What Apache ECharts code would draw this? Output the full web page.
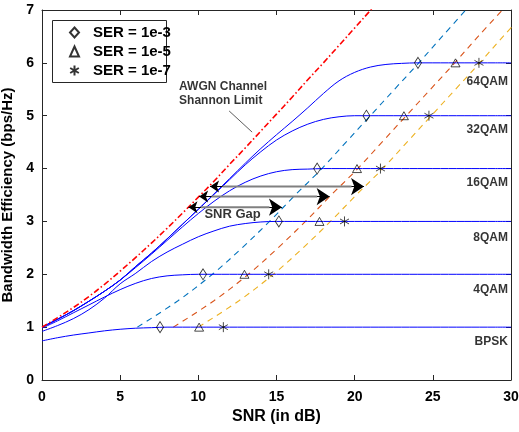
<!DOCTYPE html>
<html>
<head>
<meta charset="utf-8">
<script src="https://cdn.jsdelivr.net/npm/echarts@6/dist/echarts.min.js"></script>
<style>
  html, body { margin: 0; padding: 0; background: #fff; }
  #chart { width: 519px; height: 432px; }
</style>
</head>
<body>
<div id="chart"></div>
<script>
// SNR grid (dB) for the modulation capacity curves
var snr = [0,1,2,3,4,5,6,7,8,9,10,11,12,13,14,15,16,17,18,19,20,21,22,23,24,25,26,27,28,29,30];

// Constellation-constrained capacity (bps/Hz)
var capBPSK  = [0.74,0.80,0.85,0.89,0.93,0.96,0.98,0.99,1,1,1,1,1,1,1,1,1,1,1,1,1,1,1,1,1,1,1,1,1,1,1];
var cap4QAM  = [0.98,1.12,1.27,1.42,1.57,1.71,1.83,1.92,1.97,1.99,2,2,2,2,2,2,2,2,2,2,2,2,2,2,2,2,2,2,2,2,2];
var cap8QAM  = [0.92,1.03,1.16,1.33,1.55,1.82,2.02,2.24,2.42,2.57,2.71,2.82,2.91,2.96,2.99,3,3,3,3,3,3,3,3,3,3,3,3,3,3,3,3];
var cap16QAM = [1.00,1.15,1.31,1.49,1.68,1.89,2.13,2.38,2.64,2.90,3.15,3.38,3.58,3.74,3.86,3.94,3.98,3.99,4,4,4,4,4,4,4,4,4,4,4,4,4];
var cap32QAM = [1.00,1.15,1.31,1.49,1.68,1.89,2.15,2.40,2.67,2.95,3.23,3.51,3.79,4.07,4.32,4.54,4.71,4.84,4.93,4.98,5,5,5,5,5,5,5,5,5,5,5];
var cap64QAM = [1.00,1.15,1.31,1.49,1.68,1.89,2.15,2.40,2.67,2.95,3.23,3.52,3.81,4.10,4.38,4.64,4.89,5.15,5.42,5.66,5.82,5.92,5.97,5.99,6,6,6,6,6,6,6];

// AWGN Shannon limit
var shannonSnr = [0,1,2,3,4,5,6,7,8,9,10,11,12,13,14,15,16,17,18,19,20,21,22];
var shannonCap = [1.00,1.18,1.37,1.58,1.81,2.06,2.32,2.59,2.87,3.16,3.46,3.76,4.08,4.39,4.71,5.03,5.35,5.68,6.00,6.33,6.66,6.99,7.32];

// SER target curves: efficiency levels and the SNR where each is reached
var gapLevels = [1,1.5,2,2.5,3,3.5,4,4.5,5,5.5,6,6.5,7];
var gapSnr3 = [6.1,8.7,10.9,12.8,14.55,16.2,17.9,19.45,21.0,22.55,24.1,25.6,27.1];
var gapSnr5 = [8.4,11.0,13.2,15.1,16.85,18.5,20.2,21.75,23.3,24.85,26.4,27.9,29.45];
var gapSnr7 = [10.0,12.6,14.8,16.7,18.45,20.1,21.8,23.35,24.9,26.45,28.0,29.5,31.05];

// SNR required per modulation at each SER
var modLevels = [1,2,3,4,5,6];
var ser3Snr = [7.55,10.3,15.15,17.6,20.75,24.05];
var ser5Snr = [10.05,12.95,17.75,20.15,23.15,26.45];
var ser7Snr = [11.6,14.5,19.35,21.65,24.75,27.95];

// Modulation labels
var modNames = ['BPSK','4QAM','8QAM','16QAM','32QAM','64QAM'];
var modLabelY = [0.73,1.71,2.70,3.74,4.74,5.65];
var modLabelX = 29.8;

// SNR gap arrows
var arrowY    = [3.66,3.47,3.27];
var arrowFrom = [10.75,10.05,9.37];
var arrowTo   = [20.6,18.4,15.35];

function zip(xs, ys) { return xs.map(function (x, i) { return [x, ys[i]]; }); }

var FONT = '"Liberation Sans", Arial, Helvetica, sans-serif';
var axisColor = '#262626';

var chart = echarts.init(document.getElementById('chart'), null, { renderer: 'canvas' });

var series = [];

function capLine(name, vals) {
  return {
    name: name, type: 'line',
    data: zip(snr, vals), smooth: 0.35, showSymbol: false, silent: true,
    lineStyle: { color: '#0000ff', width: 1 }, z: 3
  };
}
series.push(capLine('BPSK', capBPSK));
series.push(capLine('4QAM', cap4QAM));
series.push(capLine('8QAM', cap8QAM));
series.push(capLine('16QAM', cap16QAM));
series.push(capLine('32QAM', cap32QAM));
series.push(capLine('64QAM', cap64QAM));

function gapLine(name, xs, color) {
  return {
    name: name, type: 'line', data: zip(xs, gapLevels), smooth: 0.35,
    showSymbol: false, silent: true,
    lineStyle: { color: color, width: 1.1, type: [6, 5] }, z: 2
  };
}
series.push(gapLine('gap3', gapSnr3, '#0072BD'));
series.push(gapLine('gap5', gapSnr5, '#D95319'));
series.push(gapLine('gap7', gapSnr7, '#EDB120'));

series.push({
  name: 'Shannon', type: 'line', data: zip(shannonSnr, shannonCap), smooth: 0.35,
  showSymbol: false, silent: true,
  lineStyle: { color: '#ff0000', width: 1.6, type: [6, 2.5, 1.5, 2.5] }, z: 4
});

// black arrow heads, grey shafts drawn on top of their connecting line
series.push({
  name: 'arrowHeads', type: 'lines', coordinateSystem: 'cartesian2d', silent: true,
  symbol: ['arrow', 'arrow'], symbolSize: [9, 13],
  lineStyle: { color: '#000', width: 1, opacity: 1 }, z: 7,
  data: arrowY.map(function (y, i) { return { coords: [[arrowFrom[i], y], [arrowTo[i], y]] }; })
});
arrowY.forEach(function (y, i) {
  series.push({
    name: 'arrowShaft' + i, type: 'line', showSymbol: false, silent: true,
    data: [[arrowFrom[i] + 0.8, y], [arrowTo[i] - 0.8, y]],
    lineStyle: { color: '#808080', width: 2 }, z: 8
  });
});

// Shannon limit pointer
series.push({
  name: 'pointer', type: 'line', showSymbol: false, silent: true,
  data: [[11.97, 5.09], [13.44, 4.69]],
  lineStyle: { color: '#333', width: 0.8 }, z: 5
});

var markerStyle = { color: 'rgba(0,0,0,0)', borderColor: '#000', borderWidth: 0.9 };
var asterisk = 'path://M5,0L5,10M0.67,2.5L9.33,7.5M0.67,7.5L9.33,2.5';
series.push({
  name: 'SER = 1e-3', type: 'scatter', data: zip(ser3Snr, modLevels),
  symbol: 'diamond', symbolSize: [7, 11], itemStyle: markerStyle, z: 10
});
series.push({
  name: 'SER = 1e-5', type: 'scatter', data: zip(ser5Snr, modLevels),
  symbol: 'triangle', symbolSize: [9, 8], itemStyle: markerStyle, z: 10
});
series.push({
  name: 'SER = 1e-7', type: 'scatter', data: zip(ser7Snr, modLevels),
  symbol: asterisk, symbolSize: [9, 10], itemStyle: markerStyle, z: 10
});

// text annotations
var boldText = { fontFamily: FONT, fontWeight: 'bold', color: '#000' };
series.push({
  name: 'modLabels', type: 'scatter', symbolSize: 0, silent: true, z: 11,
  data: modLabelY.map(function (y, i) { return { value: [modLabelX, y], name: modNames[i] }; }),
  label: Object.assign({ show: true, position: 'left', distance: 0, fontSize: 12,
    formatter: function (p) { return p.name; } }, boldText)
});
series.push({
  name: 'notes', type: 'scatter', symbolSize: 0, silent: true, z: 11,
  data: [
    { value: [8.77, 5.41], name: 'AWGN Channel\nShannon Limit', label: { position: 'right', align: 'left', lineHeight: 14 } },
    { value: [12.19, 3.13], name: 'SNR Gap', label: { position: 'inside', fontSize: 13 } }
  ],
  label: Object.assign({ show: true, distance: 0, fontSize: 12,
    formatter: function (p) { return p.name; } }, boldText)
});

function valueAxis(extra) {
  return Object.assign({
    type: 'value',
    axisLine: { show: true, onZero: false, lineStyle: { color: axisColor, width: 1 } },
    axisTick: { show: true, inside: true, length: 5, lineStyle: { color: axisColor } },
    splitLine: { show: false }
  }, extra);
}

var option = {
  animation: false,
  backgroundColor: '#fff',
  grid: { left: 42, right: 8, top: 10, bottom: 52, containLabel: false, outerBoundsMode: 'none' },
  // legend frame
  graphic: [{
    type: 'rect', left: 52, top: 20, z: 20, silent: true,
    shape: { width: 114, height: 62 },
    style: { fill: '#fff', stroke: '#262626', lineWidth: 1 }
  }],
  legend: {
    data: ['SER = 1e-3', 'SER = 1e-5', 'SER = 1e-7'],
    orient: 'vertical', left: 69, top: 25, z: 30,
    padding: 0, itemGap: 4, itemWidth: 9, itemHeight: 10,
    textStyle: { fontFamily: FONT, fontWeight: 'bold', fontSize: 15, color: '#000',
      padding: [0, 0, 0, 9], lineHeight: 15 },
    selectedMode: false
  },
  xAxis: [
    valueAxis({ min: 0, max: 30, interval: 5, position: 'bottom',
      name: 'SNR (in dB)', nameLocation: 'middle', nameGap: 28,
      nameTextStyle: { fontFamily: FONT, fontWeight: 'bold', fontSize: 16, color: '#000' },
      axisLabel: { margin: 10, fontFamily: FONT, fontWeight: 'bold', fontSize: 14, color: '#000' } }),
    valueAxis({ min: 0, max: 30, interval: 5, position: 'top', axisLabel: { show: false } })
  ],
  yAxis: [
    valueAxis({ min: 0, max: 7, interval: 1, position: 'left',
      name: 'Bandwidth Efficiency (bps/Hz)', nameLocation: 'middle', nameGap: 18,
      nameTextStyle: { fontFamily: FONT, fontWeight: 'bold', fontSize: 15, color: '#000' },
      axisLabel: { margin: 8, fontFamily: FONT, fontWeight: 'bold', fontSize: 14, color: '#000' } }),
    valueAxis({ min: 0, max: 7, interval: 1, position: 'right', axisLabel: { show: false } })
  ],
  series: series
};

chart.setOption(option);
</script>
</body>
</html>
